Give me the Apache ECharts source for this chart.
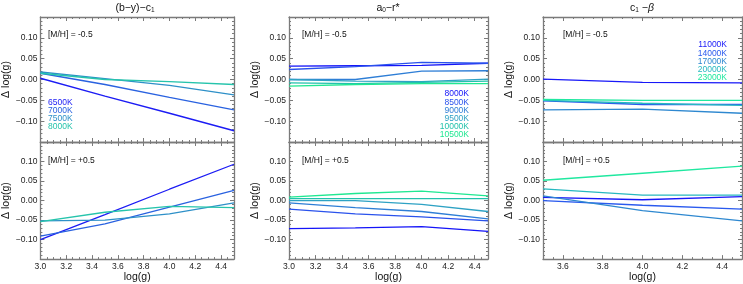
<!DOCTYPE html>
<html><head><meta charset="utf-8">
<script src="https://cdn.jsdelivr.net/npm/echarts@6/dist/echarts.min.js"></script>
<style>html,body{margin:0;padding:0;background:#fff}#c{width:743px;height:284px}</style>
</head><body><div id="c"></div>
<script>
// ---- data ----
const gravA = [3.0, 3.5, 4.0, 4.5];
const gravC = [3.5, 4.0, 4.5];
const xTicksA = [3.0, 3.2, 3.4, 3.6, 3.8, 4.0, 4.2, 4.4];
const xTicksC = [3.6, 3.8, 4.0, 4.2, 4.4];
const yTicks = [-0.10, -0.05, 0.00, 0.05, 0.10];

const tempsA = ['6500K', '7000K', '7500K', '8000K'];
const colorsA = ['#1c1cf4', '#2a62e0', '#2e90c8', '#26c4ac'];
const bycLow = [
  [0.003, -0.040, -0.081, -0.123],
  [0.015, -0.012, -0.043, -0.073],
  [0.018, 0.002, -0.014, -0.037],
  [0.015, 0.000, -0.005, -0.012]
];
const bycHigh = [
  [-0.100, -0.036, 0.029, 0.093],
  [-0.091, -0.060, -0.017, 0.026],
  [-0.052, -0.050, -0.034, -0.006],
  [-0.054, -0.030, -0.015, -0.018]
];

const tempsB = ['8000K', '8500K', '9000K', '9500K', '10000K', '10500K'];
const colorsB = ['#1414f8', '#2a52ec', '#2e7ed6', '#2ea2c4', '#22c2ac', '#20e892'];
const arLow = [
  [0.032, 0.033, 0.034, 0.039],
  [0.024, 0.031, 0.041, 0.039],
  [0.000, 0.000, 0.020, 0.021],
  [0.000, -0.004, -0.005, 0.001],
  [-0.008, -0.010, -0.007, -0.004],
  [-0.016, -0.012, -0.010, -0.010]
];
const arHigh = [
  [-0.072, -0.070, -0.067, -0.079],
  [-0.022, -0.034, -0.042, -0.052],
  [-0.006, -0.018, -0.028, -0.047],
  [0.000, 0.000, -0.010, -0.028],
  [0.005, 0.005, 0.005, 0.005],
  [0.009, 0.018, 0.024, 0.012]
];

const tempsC = ['11000K', '14000K', '17000K', '20000K', '23000K'];
const colorsC = ['#1818f8', '#2a5aee', '#2e88d0', '#28b8c0', '#20e8a0'];
const cbLow = [
  [0.001, -0.007, -0.008],
  [-0.051, -0.060, -0.060],
  [-0.073, -0.071, -0.081],
  [-0.050, -0.057, -0.062],
  [-0.048, -0.050, -0.050]
];
const cbHigh = [
  [0.008, 0.002, 0.010],
  [0.000, -0.012, -0.022],
  [0.012, -0.026, -0.052],
  [0.030, 0.014, 0.014],
  [0.052, 0.070, 0.088]
];

// ---- layout ----
const FONT = 'Liberation Sans, Arial, sans-serif';
const FRAME = '#7a7a7a';
const panels = [
  { left: 35, xmin: 3.0, xmax: 4.5, xt: xTicksA, xs: gravA, low: bycLow, high: bycHigh, colors: colorsA },
  { left: 289, xmin: 3.0, xmax: 4.5, xt: xTicksA, xs: gravA, low: arLow, high: arHigh, colors: colorsB },
  { left: 543, xmin: 3.5, xmax: 4.5, xt: xTicksC, xs: gravC, low: cbLow, high: cbHigh, colors: colorsC }
];
const PW = 199;
const rows = [{ top: 17, height: 125 }, { top: 142, height: 124 }];

function steps(a, b, s) {
  const out = [];
  const n = Math.round((b - a) / s);
  for (let i = 0; i <= n; i++) out.push(Math.round((a + i * s) * 1000) / 1000);
  return out;
}
const fmt = v => (Math.abs(v) < 1e-9 ? 0 : v).toFixed(2).replace('-', '\u2212');

const grids = [], xAxes = [], yAxes = [], series = [];
panels.forEach((p, pi) => {
  rows.forEach((r, ri) => {
    const gi = grids.length;
    grids.push({ left: p.left, width: PW, top: r.top, height: r.height, containLabel: false });
    const xMinor = steps(p.xmin, p.xmax, 0.05);
    const yMinor = steps(-0.15, 0.15, 0.01);
    const bottomLabels = ri === 1;
    const mkX = (pos, major, labels) => ({
      type: 'value', gridIndex: gi, position: pos, min: p.xmin, max: p.xmax,
      name: (major && labels) ? 'log(g)' : '', nameLocation: 'middle', nameGap: 9,
      nameTextStyle: { fontFamily: FONT, fontSize: 10.5, color: '#111' },
      axisLine: { show: major, onZero: false, lineStyle: { color: FRAME, width: 1.3 } },
      axisTick: { show: true, inside: true, length: major ? 4 : 2, customValues: major ? p.xt : xMinor, lineStyle: { color: FRAME, width: 1 } },
      axisLabel: { show: major && labels, customValues: p.xt, margin: 3, fontFamily: FONT, fontSize: 8.5, color: '#222', formatter: v => v.toFixed(1) },
      splitLine: { show: false }, minorTick: { show: false }
    });
    const mkY = (pos, major, labels) => ({
      type: 'value', gridIndex: gi, position: pos, min: -0.15, max: 0.15,
      name: (major && labels) ? '\u0394 log(g)' : '', nameLocation: 'middle', nameGap: 21,
      nameTextStyle: { fontFamily: FONT, fontSize: 10.5, color: '#111' },
      axisLine: { show: major, onZero: false, lineStyle: { color: FRAME, width: 1.3 } },
      axisTick: { show: true, inside: true, length: major ? 4 : 2, customValues: major ? yTicks : yMinor, lineStyle: { color: FRAME, width: 1 } },
      axisLabel: { show: major && labels, customValues: yTicks, margin: 3, fontFamily: FONT, fontSize: 8.5, color: '#222', formatter: fmt },
      splitLine: { show: false }, minorTick: { show: false }
    });
    const xMain = xAxes.length;
    xAxes.push(mkX('bottom', true, bottomLabels), mkX('bottom', false, false), mkX('top', true, false), mkX('top', false, false));
    const yMain = yAxes.length;
    yAxes.push(mkY('left', true, true), mkY('left', false, false), mkY('right', true, false), mkY('right', false, false));
    const sets = ri === 0 ? p.low : p.high;
    sets.forEach((vals, si) => {
      series.push({
        type: 'line', xAxisIndex: xMain, yAxisIndex: yMain, symbol: 'none', silent: true,
        lineStyle: { color: p.colors[si], width: 1.3 }, itemStyle: { color: p.colors[si] },
        data: vals.map((v, k) => [p.xs[k], v]), z: 3
      });
    });
  });
});

// ---- text ----
const graphic = [];
function txt(x, y, t, opt) {
  graphic.push({ type: 'text', x, y, silent: true, style: Object.assign({ text: t, fontFamily: FONT, fontSize: 8.5, fill: '#111', textVerticalAlign: 'middle' }, opt || {}) });
}
// titles
const titleRich = { b: { fontFamily: FONT, fontSize: 10.5, fill: '#111' }, s: { fontFamily: FONT, fontSize: 6.5, fill: '#111', padding: [5, 0, 0, 0] }, i: { fontFamily: FONT, fontSize: 10.5, fontStyle: 'italic', fill: '#111' } };
graphic.push({ type: 'text', x: 135, y: 8, silent: true, style: { text: '{b|(b\u2212y)\u2212c}{s|1}', rich: titleRich, textAlign: 'center', textVerticalAlign: 'middle' } });
graphic.push({ type: 'text', x: 388, y: 8, silent: true, style: { text: '{b|a}{s|0}{b|\u2212r*}', rich: titleRich, textAlign: 'center', textVerticalAlign: 'middle' } });
graphic.push({ type: 'text', x: 642, y: 8, silent: true, style: { text: '{b|c}{s|1}{b| \u2212}{i|\u03b2}', rich: titleRich, textAlign: 'center', textVerticalAlign: 'middle' } });
// metallicity labels
[48, 302, 563].forEach(x => {
  txt(x, 35, '[M/H] = -0.5');
  txt(x, 161, '[M/H] = +0.5');
});
// legends
tempsA.forEach((t, i) => txt(48, 103 + i * 8, t, { fill: colorsA[i] }));
tempsB.forEach((t, i) => txt(469, 94 + i * 8.2, t, { fill: colorsB[i], textAlign: 'right' }));
tempsC.forEach((t, i) => txt(727, 45 + i * 8.2, t, { fill: colorsC[i], textAlign: 'right' }));

const chart = echarts.init(document.getElementById('c'), null, { renderer: 'canvas' });
chart.setOption({
  animation: false, backgroundColor: '#fff',
  grid: grids, xAxis: xAxes, yAxis: yAxes, series, graphic
});
</script></body></html>
